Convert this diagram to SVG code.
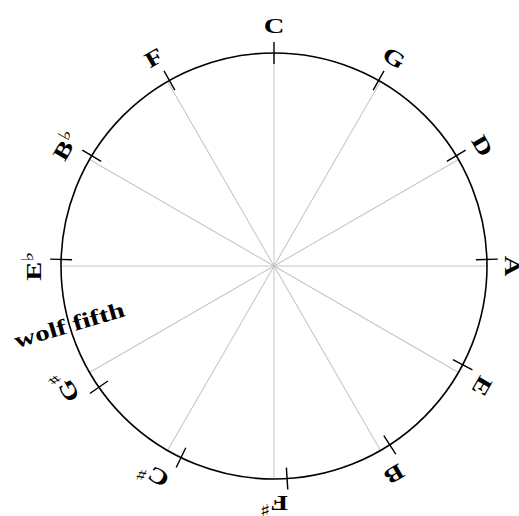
<svg xmlns="http://www.w3.org/2000/svg" width="519" height="516" viewBox="0 0 519 516">
<style>
.circle{fill:none;stroke:#000;stroke-width:1.6}
.spoke{stroke:#c4c4c4;stroke-width:1}
.tick{stroke:#000;stroke-width:1.4}
.lbl{font-family:"Liberation Serif","DejaVu Serif",serif;font-weight:bold;font-size:22px;text-anchor:middle;fill:#000}
.acc{font-family:"DejaVu Sans",sans-serif;font-weight:bold;font-size:17px}
.wolf{font-family:"Liberation Serif","DejaVu Serif",serif;font-weight:bold;font-size:22px;text-anchor:middle;fill:#000}
</style>
<rect width="519" height="516" fill="#fff"/>
<g id="connectors">
<line class="spoke" x1="274" y1="266" x2="274" y2="53"/>
<line class="spoke" x1="274" y1="266" x2="274" y2="53" transform="rotate(30 274 266)"/>
<line class="spoke" x1="274" y1="266" x2="274" y2="53" transform="rotate(60 274 266)"/>
<line class="spoke" x1="274" y1="266" x2="274" y2="53" transform="rotate(90 274 266)"/>
<line class="spoke" x1="274" y1="266" x2="274" y2="53" transform="rotate(120 274 266)"/>
<line class="spoke" x1="274" y1="266" x2="274" y2="53" transform="rotate(150 274 266)"/>
<line class="spoke" x1="274" y1="266" x2="274" y2="53" transform="rotate(180 274 266)"/>
<line class="spoke" x1="274" y1="266" x2="274" y2="53" transform="rotate(210 274 266)"/>
<line class="spoke" x1="274" y1="266" x2="274" y2="53" transform="rotate(240 274 266)"/>
<line class="spoke" x1="274" y1="266" x2="274" y2="53" transform="rotate(270 274 266)"/>
<line class="spoke" x1="274" y1="266" x2="274" y2="53" transform="rotate(300 274 266)"/>
<line class="spoke" x1="274" y1="266" x2="274" y2="53" transform="rotate(330 274 266)"/>
</g>
<circle id="circle" class="circle" cx="274" cy="266" r="213"/>
<g id="node-C">
<line class="tick" x1="274" y1="42" x2="274" y2="64"/>
<text class="lbl" transform="translate(274 33) scale(1.3 1)">C</text>
</g>
<g id="node-G">
<line class="tick" x1="274" y1="42" x2="274" y2="64" transform="rotate(29.41 274 266)"/>
<text class="lbl" transform="rotate(30 274 266) translate(274 33) scale(1.3 1)">G</text>
</g>
<g id="node-D">
<line class="tick" x1="274" y1="42" x2="274" y2="64" transform="rotate(58.83 274 266)"/>
<text class="lbl" transform="rotate(60 274 266) translate(274 33) scale(1.3 1)">D</text>
</g>
<g id="node-A">
<line class="tick" x1="274" y1="42" x2="274" y2="64" transform="rotate(88.24 274 266)"/>
<text class="lbl" transform="rotate(90 274 266) translate(274 35) scale(1.3 1)">A</text>
</g>
<g id="node-E">
<line class="tick" x1="274" y1="42" x2="274" y2="64" transform="rotate(117.65 274 266)"/>
<text class="lbl" transform="rotate(120 274 266) translate(274 33) scale(1.3 1)">E</text>
</g>
<g id="node-B">
<line class="tick" x1="274" y1="42" x2="274" y2="64" transform="rotate(147.07 274 266)"/>
<text class="lbl" transform="rotate(150 274 266) translate(274 33) scale(1.3 1)">B</text>
</g>
<g id="node-Fsharp">
<line class="tick" x1="274" y1="42" x2="274" y2="64" transform="rotate(176.48 274 266)"/>
<text class="lbl" transform="rotate(180 274 266) translate(274 36) scale(1.3 1)">F<tspan class="acc" dy="-8">♯</tspan></text>
</g>
<g id="node-Csharp">
<line class="tick" x1="274" y1="42" x2="274" y2="64" transform="rotate(205.89 274 266)"/>
<text class="lbl" transform="rotate(210 274 266) translate(274 33) scale(1.3 1)">C<tspan class="acc" dy="-8">♯</tspan></text>
</g>
<g id="node-Gsharp">
<line class="tick" x1="274" y1="42" x2="274" y2="64" transform="rotate(235.31 274 266)"/>
<text class="lbl" transform="rotate(240 274 266) translate(274 33) scale(1.3 1)">G<tspan class="acc" dy="-8">♯</tspan></text>
</g>
<g id="node-Eflat">
<line class="tick" x1="274" y1="42" x2="274" y2="64" transform="rotate(-88.24 274 266)"/>
<text class="lbl" transform="rotate(270 274 266) translate(274 33) scale(1.3 1)">E<tspan class="acc" dy="-8">♭</tspan></text>
</g>
<g id="node-Bflat">
<line class="tick" x1="274" y1="42" x2="274" y2="64" transform="rotate(-58.83 274 266)"/>
<text class="lbl" transform="rotate(300 274 266) translate(274 33) scale(1.3 1)">B<tspan class="acc" dy="-8">♭</tspan></text>
</g>
<g id="node-F">
<line class="tick" x1="274" y1="42" x2="274" y2="64" transform="rotate(-29.41 274 266)"/>
<text class="lbl" transform="rotate(330 274 266) translate(274 33) scale(1.3 1)">F</text>
</g>
<g id="wolf-label">
<text class="wolf" x="61" y="272" textLength="114" lengthAdjust="spacingAndGlyphs" transform="rotate(-16.47 274 266)">wolf fifth</text>
</g>
</svg>
